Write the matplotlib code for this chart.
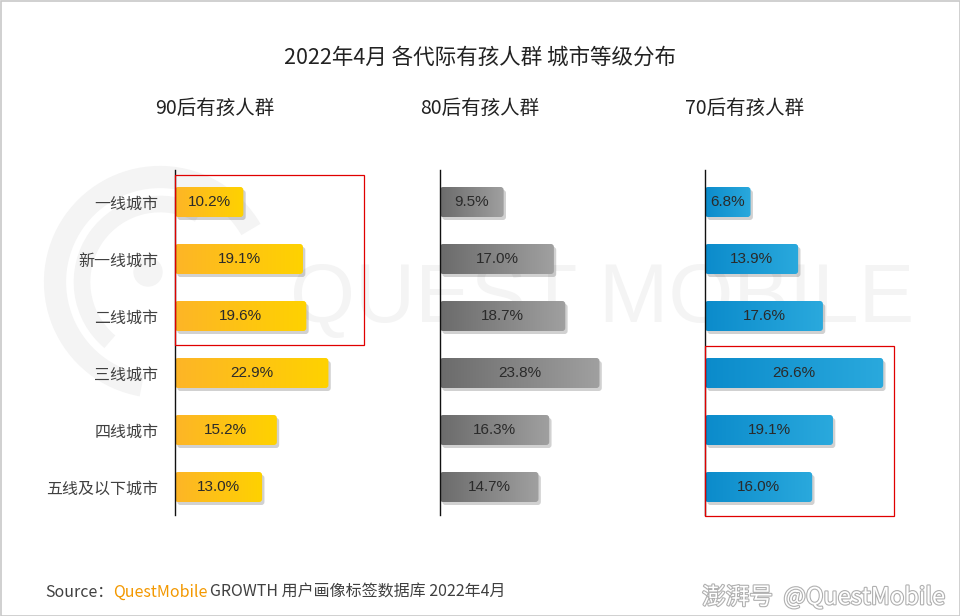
import matplotlib
matplotlib.use("Agg")
import matplotlib.pyplot as plt
import numpy as np
from matplotlib.colors import LinearSegmentedColormap
from matplotlib.patches import FancyBboxPatch, Rectangle, Arc, Circle
import matplotlib.patheffects as pe

plt.rcParams['font.family'] = ['Noto Sans CJK SC', 'DejaVu Sans']

cities = ['一线城市', '新一线城市', '二线城市', '三线城市', '四线城市', '五线及以下城市']
groups = ['90后有孩人群', '80后有孩人群', '70后有孩人群']
share_90 = [10.2, 19.1, 19.6, 22.9, 15.2, 13.0]
share_80 = [9.5, 17.0, 18.7, 23.8, 16.3, 14.7]
share_70 = [6.8, 13.9, 17.6, 26.6, 19.1, 16.0]
series = [share_90, share_80, share_70]
colours = [('#fdb527', '#ffd200'), ('#6b6b6b', '#a0a0a0'), ('#0b8bcb', '#2aa9dd')]
boxed = [(0, 2), None, (3, 5)]   # rows framed in red

W, H = 960, 616
fig = plt.figure(figsize=(W / 100, H / 100), dpi=100)
fig.patches.append(Rectangle((0.5 / W, 0.5 / H), 1 - 1 / W, 1 - 1 / H, transform=fig.transFigure,
                             fill=False, edgecolor='#c8c8c8', lw=1.2))

# faint watermark logo
bg = fig.add_axes([0, 0, 1, 1], zorder=-5)
bg.set_xlim(0, W); bg.set_ylim(H, 0); bg.axis('off')
for r, w, t1, t2 in [(105, 16, 100, 330), (78, 12, 130, 300)]:
    bg.add_patch(Arc((160, 282), 2 * r, 2 * r, theta1=t1, theta2=t2, lw=w, color='#f4f4f4'))
bg.add_patch(Circle((148, 272), 14, color='#f4f4f4'))
bg.text(602, 300, 'QUEST MOBILE', fontsize=60, color='#f4f4f4', ha='center', va='center',
        family=['Liberation Sans'])

fig.text(0.5, 1 - 58 / H, '2022年4月 各代际有孩人群 城市等级分布', ha='center', va='center',
         fontsize=15.5, color='#222222')

px_per = 6.7
ax_w = 200
lefts = [175, 440, 705]
top, bot = 170, 515
row0, step = 202, 57
ylim = (5 + (bot - row0 - 5 * step) / step, -(row0 - top) / step)
bar_h = 30 / step

for k in range(3):
    ax = fig.add_axes([lefts[k] / W, 1 - bot / H, ax_w / W, (bot - top) / H])
    ax.set_facecolor('none')
    ax.set_xlim(0, ax_w / px_per)
    ax.set_ylim(*ylim)
    for s in ['top', 'right', 'bottom']:
        ax.spines[s].set_visible(False)
    ax.spines['left'].set_color('#111111')
    ax.spines['left'].set_linewidth(1)
    ax.set_xticks([])
    ys = np.arange(len(cities))
    ax.set_yticks(ys)
    if k == 0:
        ax.set_yticklabels(cities, fontsize=11.5, color='#404040')
        ax.tick_params(axis='y', length=0, pad=12)
    else:
        ax.set_yticklabels([])
        ax.tick_params(axis='y', length=0)
    cmap = LinearSegmentedColormap.from_list('g%d' % k, colours[k])
    grad = np.linspace(0, 1, 256).reshape(1, -1)
    rx = 3 / px_per
    asp = (1 / step) / (1 / px_per)
    for i, v in enumerate(series[k]):
        sh = FancyBboxPatch((0.35, i - bar_h / 2 + 3 / step), v, bar_h,
                            boxstyle='round,pad=0,rounding_size=%f' % rx, mutation_aspect=asp,
                            facecolor='#000000', alpha=0.18, edgecolor='none', zorder=1)
        ax.add_patch(sh)
        p = FancyBboxPatch((0, i - bar_h / 2), v, bar_h,
                           boxstyle='round,pad=0,rounding_size=%f' % rx, mutation_aspect=asp,
                           facecolor='none', edgecolor='none', zorder=2)
        ax.add_patch(p)
        im = ax.imshow(grad, cmap=cmap, aspect='auto', extent=(0, v, i + bar_h / 2, i - bar_h / 2),
                       zorder=2, interpolation='bilinear')
        im.set_clip_path(p)
        ax.text(v / 2, i, '%.1f%%' % v, ha='center', va='center', fontsize=11, color='#2a2a2a',
                family=['Liberation Sans', 'DejaVu Sans'], zorder=3)
    ax.set_xlim(0, ax_w / px_per)
    ax.set_ylim(*ylim)
    if boxed[k]:
        a, b = boxed[k]
        y0 = a - (row0 - 175) / step if a == 0 else a - 27 / step
        y1 = b + 29 / step
        ax.add_patch(Rectangle((0, y0), 189 / px_per, y1 - y0, fill=False, edgecolor='#e00000',
                               lw=0.9, zorder=4, clip_on=False))
    fig.text((lefts[k] + 40) / W, 1 - 108 / H, groups[k], ha='center', va='center',
             fontsize=14, color='#222222', weight='medium')

# source line
t = fig.text(45 / W, 1 - 592 / H, 'Source：', fontsize=11.5, color='#404040', va='center')
fig.canvas.draw()
r = fig.canvas.get_renderer()
x = t.get_window_extent(r).x1
t2 = fig.text(x / W, 1 - 592 / H, 'QuestMobile', fontsize=11.5, color='#f39800', va='center')
fig.canvas.draw()
x = t2.get_window_extent(r).x1
fig.text(x / W + 2 / W, 1 - 592 / H, 'GROWTH 用户画像标签数据库 2022年4月', fontsize=11.5,
         color='#404040', va='center')
fig.text(945 / W, 1 - 597 / H, '澎湃号  @QuestMobile', fontsize=17, color='white', ha='right',
         va='center', style='italic',
         path_effects=[pe.withStroke(linewidth=1.6, foreground='#b0b0b0')])

fig.savefig('out.png', dpi=100)
